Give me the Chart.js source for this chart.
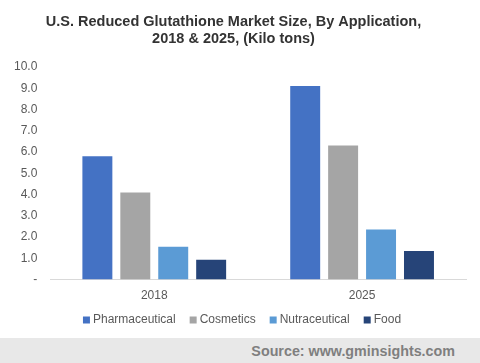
<!DOCTYPE html>
<html>
<head>
<meta charset="utf-8">
<script src="https://cdn.jsdelivr.net/npm/chart.js@4"></script>
<style>
html,body{margin:0;padding:0;background:#fff;}
#wrap{position:relative;width:480px;height:338px;}
#src{width:480px;height:25px;background:#e8e8e8;font:bold 14.3px "Liberation Sans",Arial,sans-serif;color:#7f7f7f;text-align:right;box-sizing:border-box;padding-right:25px;line-height:26px;}
</style>
</head>
<body>
<div id="wrap"><canvas id="c" width="480" height="338"></canvas></div>
<div id="src">Source: www.gminsights.com</div>
<script>
const years=['2018','2025'];
const pharma=[5.8,9.1];
const cosmetics=[4.1,6.3];
const nutra=[1.55,2.35];
const food=[0.93,1.35];
const yTicks=[0,1,2,3,4,5,6,7,8,9,10];

const grey='#595959';
const ff='"Liberation Sans", Arial';

// legend sits closer to the x labels than its padding would allow, and a bit right of centre
const CUT=15,SHIFT=10;
const tightLegend={id:'tightLegend',
  beforeUpdate(chart){
    const lg=chart.legend;
    if(lg&&!lg._tight){lg._tight=1;const f=lg.fit.bind(lg);lg.fit=function(){f();this.height-=CUT;};}
  },
  afterLayout(chart){const lg=chart.legend;if(lg){lg.top-=CUT;lg.left+=SHIFT;lg.right+=SHIFT;}}
};

new Chart(document.getElementById('c'),{
  type:'bar',
  data:{labels:years,datasets:[
    {label:'Pharmaceutical',data:pharma,backgroundColor:'#4472C4'},
    {label:'Cosmetics',data:cosmetics,backgroundColor:'#A5A5A5'},
    {label:'Nutraceutical',data:nutra,backgroundColor:'#5B9BD5'},
    {label:'Food',data:food,backgroundColor:'#264478'}
  ]},
  plugins:[tightLegend],
  options:{
    responsive:false,animation:false,
    layout:{padding:{left:1,right:14,top:0,bottom:2}},
    datasets:{bar:{categoryPercentage:0.73,barPercentage:0.79}},
    plugins:{
      title:{display:true,text:['U.S. Reduced Glutathione Market Size, By Application,','2018 & 2025, (Kilo tons)'],
        color:'#333',font:{family:ff,size:14.5,weight:'bold',lineHeight:1.17},padding:{top:14,bottom:19}},
      legend:{position:'bottom',labels:{usePointStyle:true,pointStyle:'rect',boxWidth:1,boxHeight:7,
        color:grey,padding:17,font:{family:ff,size:12}}},
      tooltip:{enabled:false}
    },
    scales:{
      x:{grid:{display:false,drawTicks:false},border:{color:'#d9d9d9'},
        ticks:{color:grey,padding:9,font:{family:ff,size:12}}},
      y:{min:0,max:10,afterBuildTicks:a=>{a.ticks=yTicks.map(v=>({value:v}));},
        grid:{display:false,drawTicks:false},border:{display:false},
        ticks:{color:grey,padding:13,font:{family:ff,size:12},
          callback:v=>v===0?'-':v.toFixed(1)}}
    }
  }
});
</script>
</body>
</html>
